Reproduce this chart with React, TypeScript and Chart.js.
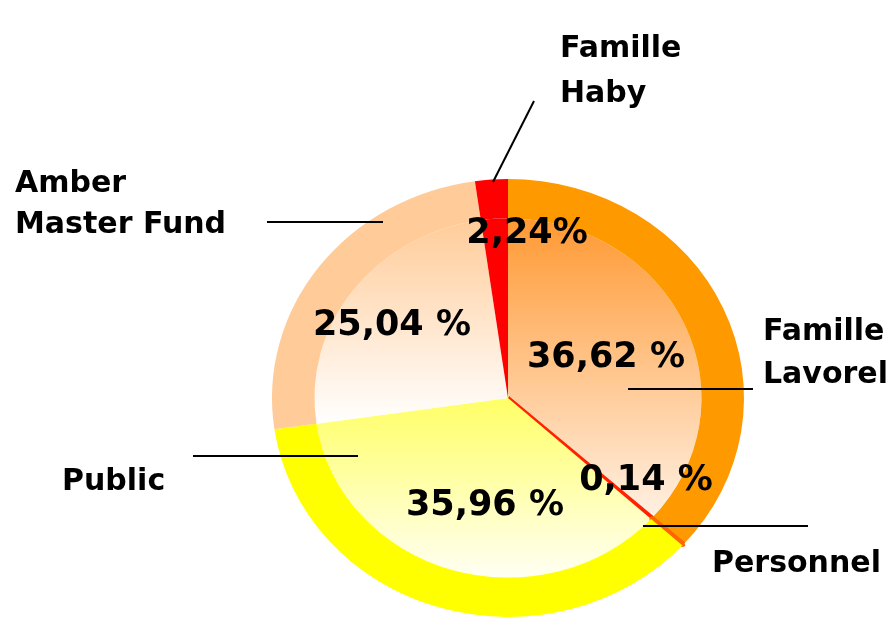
import React, { useEffect, useRef } from 'react';
import { Chart, registerables } from 'chart.js';

Chart.register(...registerables);

// ---- data ----
const categories = ['Famille Lavorel', 'Personnel', 'Public', 'Amber Master Fund', 'Famille Haby'];
const shares = [36.62, 0.14, 35.96, 25.04, 2.24];
const percentLabels = ['36,62 %', '0,14 %', '35,96 %', '25,04 %', '2,24%'];
const nameLines = [['Famille', 'Lavorel'], ['Personnel'], ['Public'], ['Amber', 'Master Fund'], ['Famille', 'Haby']];

// ---- styles ----
const ringColors = ['#FF9900', '#FF6600', '#FFFF00', '#FFCC99', '#FF0000'];
const innerTop = ['#FF9933', '#FF2200', '#FFFF66', '#FFCC99', '#FF0000'];
const innerBottom = ['#FFF1E4', '#FF2200', '#FFFFF4', '#FFFFFF', '#FF0000'];
const personnelBorder = [0, 4, 0, 0, 0];

// ---- layout (page pixels) ----
const W = 894;
const H = 626;
const SX = 236 / 219; // horizontal stretch of the ellipse
const RING = 0.18;
const namePos = [
  { x: 763, y: 340, lh: 43 },
  { x: 712, y: 572, lh: 0 },
  { x: 62, y: 490, lh: 0 },
  { x: 15, y: 192, lh: 41 },
  { x: 560, y: 57, lh: 45 },
];
const pctPos = [
  { x: 606, y: 367 },
  { x: 646, y: 490 },
  { x: 485, y: 515 },
  { x: 392, y: 335 },
  { x: 527, y: 243 },
];
const leaders = [
  [628, 389, 753, 389],
  [643, 526, 808, 526],
  [193, 456, 358, 456],
  [267, 222, 383, 222],
  [493, 182, 534, 101],
];

const total = shares.reduce((a, b) => a + b, 0);

function innerFill(c: any) {
  const i = c.dataIndex;
  const chart = c.chart;
  const a = chart.chartArea;
  if (!a) return innerTop[i];
  const cx = (a.left + a.right) / 2;
  const cy = (a.top + a.bottom) / 2;
  const r = ((Math.min(a.width, a.height) - 4) / 2) * (1 - RING);
  let before = 0;
  for (let k = 0; k < i; k++) before += shares[k];
  const s = (before / total) * Math.PI * 2 - Math.PI / 2;
  const e = ((before + shares[i]) / total) * Math.PI * 2 - Math.PI / 2;
  const ys = [cy, cy + r * Math.sin(s), cy + r * Math.sin(e)];
  if (s <= Math.PI / 2 && e >= Math.PI / 2) ys.push(cy + r);
  if (s <= -Math.PI / 2 + 1e-9 || e >= (3 * Math.PI) / 2 - 1e-9) ys.push(cy - r);
  const y0 = Math.min(...ys);
  const y1 = Math.max(...ys);
  if (y1 - y0 < 1) return innerTop[i];
  const g = chart.ctx.createLinearGradient(0, y0, 0, y1);
  g.addColorStop(0, innerTop[i]);
  g.addColorStop(1, innerBottom[i]);
  return g;
}

const ellipsePlugin = {
  id: 'ellipse',
  beforeDatasetsDraw(chart: any) {
    const ctx = chart.ctx;
    const a = chart.chartArea;
    const cx = (a.left + a.right) / 2;
    const cy = (a.top + a.bottom) / 2;
    ctx.save();
    ctx.translate(cx, cy);
    ctx.scale(SX, 1);
    ctx.translate(-cx, -cy);
  },
  afterDatasetsDraw(chart: any) {
    chart.ctx.restore();
  },
};

const labelsPlugin = {
  id: 'labels',
  afterDraw(chart: any) {
    const ctx = chart.ctx;
    ctx.save();
    ctx.strokeStyle = '#000';
    ctx.lineWidth = 2;
    leaders.forEach(([x1, y1, x2, y2]) => {
      ctx.beginPath();
      ctx.moveTo(x1, y1);
      ctx.lineTo(x2, y2);
      ctx.stroke();
    });
    ctx.fillStyle = '#000';
    ctx.textBaseline = 'alphabetic';
    ctx.font = 'bold 30px "DejaVu Sans"';
    ctx.textAlign = 'left';
    nameLines.forEach((lines, i) => {
      const p = namePos[i];
      lines.forEach((t, j) => ctx.fillText(t, p.x, p.y + j * p.lh));
    });
    ctx.font = 'bold 35px "DejaVu Sans"';
    ctx.textAlign = 'center';
    percentLabels.forEach((t, i) => ctx.fillText(t, pctPos[i].x, pctPos[i].y));
    ctx.restore();
  },
};

export default function App() {
  const ref = useRef<HTMLCanvasElement>(null);
  useEffect(() => {
    if (!ref.current) return;
    const chart = new Chart(ref.current, {
      type: 'pie',
      data: {
        labels: categories,
        datasets: [
          {
            data: shares,
            backgroundColor: ringColors,
            borderColor: ringColors,
            borderWidth: personnelBorder,
            weight: RING,
            hoverOffset: 0,
            offset: 0,
            clip: false,
          } as any,
          {
            data: shares,
            backgroundColor: innerFill,
            borderColor: innerTop,
            borderWidth: personnelBorder,
            weight: 1 - RING,
            hoverOffset: 0,
            offset: 0,
            clip: false,
          } as any,
        ],
      },
      options: {
        responsive: true,
        maintainAspectRatio: false,
        animation: false,
        events: [],
        layout: { padding: { left: 287, right: 165, top: 177, bottom: 7 } },
        plugins: {
          legend: { display: false },
          tooltip: { enabled: false },
          title: { display: false },
        },
      },
      plugins: [ellipsePlugin, labelsPlugin],
    });
    return () => chart.destroy();
  }, []);
  return (
    <div style={{ position: 'fixed', left: 0, top: 0, width: W, height: H, background: '#fff' }}>
      <canvas ref={ref} />
    </div>
  );
}
